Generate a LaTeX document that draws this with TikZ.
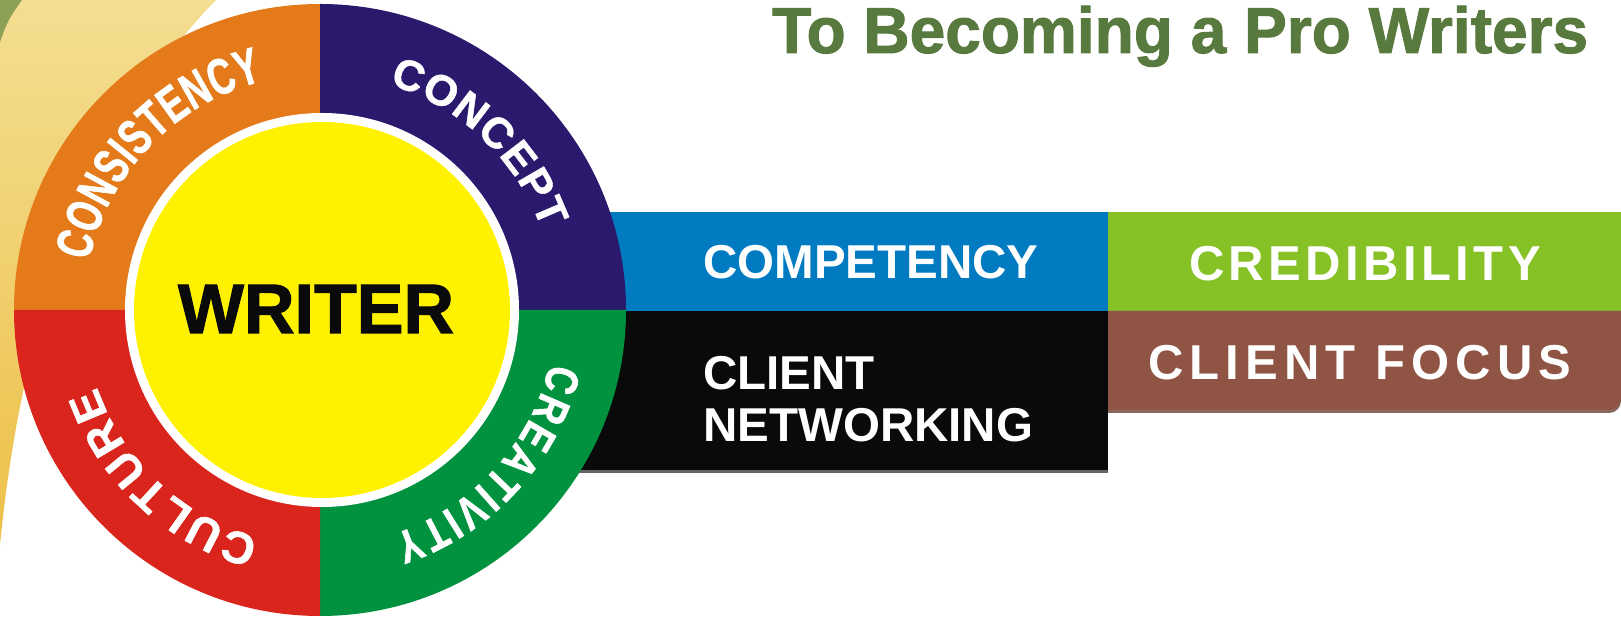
\documentclass[tikz,border=0pt]{standalone}
\usepackage{fontspec}
\setmainfont{Liberation Sans}
\newfontfamily\condfont{Liberation Sans}[FakeStretch=0.7, FakeBold=1.2]
\newfontfamily\narfont{Liberation Sans}[FakeStretch=0.8, FakeBold=1.2]
\newfontfamily\ringfont{Liberation Sans}[FakeBold=1.2]
\newfontfamily\titlefont{Liberation Sans}[FakeBold=1.5]
\usetikzlibrary{decorations.text}
\definecolor{corange}{RGB}{228,122,26}
\definecolor{cpurple}{RGB}{43,25,110}
\definecolor{cred}{RGB}{218,37,29}
\definecolor{cgreen}{RGB}{0,146,63}
\definecolor{cyellow}{RGB}{255,242,0}
\definecolor{cblue}{RGB}{0,123,194}
\definecolor{clime}{RGB}{134,193,38}
\definecolor{cblack}{RGB}{10,10,10}
\definecolor{cbrown}{RGB}{143,84,68}
\definecolor{ctitle}{RGB}{88,122,62}
\definecolor{cbeigeT}{RGB}{244,222,146}
\definecolor{cbeigeB}{RGB}{237,192,72}
\definecolor{colive}{RGB}{140,160,85}
\newcommand\ringlabel[4]{%
  \path[decorate, decoration={text along path, text={|#3|#4},
        text align={fit to path}, text color=white}]
    ([shift={(#1:236)}]c) arc[start angle=#1, end angle=#2, radius=236];}
\tikzset{
  barbox/.style={anchor=south west, inner sep=0, outer sep=0, minimum width=588, minimum height=99},
  bartext/.style={anchor=base west, inner sep=0, text=white},
  barfont/.style={font=\fontsize{47.5}{47.5}\selectfont\bfseries},
}
\begin{document}
\begin{tikzpicture}[x=1pt,y=1pt]
\useasboundingbox (0,0) rectangle (1621,620);
\fill[white] (0,0) rectangle (1621,620);
% background swoosh
\shade[top color=cbeigeT, bottom color=cbeigeB] (0,620) -- (216,620) .. controls (70,470) and (18,260) .. (0,75) -- cycle;
\fill[colive] (0,620) -- (22,620) .. controls (8,600) .. (0,578) -- cycle;
% title
\node[anchor=base west, inner sep=0, text=ctitle, font=\titlefont\fontsize{65}{65}\selectfont\bfseries] (title) at (772,567) {\scalebox{0.985}[1]{To Becoming a Pro Writers}};
% bars
\node[barbox, fill=cblue] (blue) at (520,309) {};
\node[barbox, fill=clime, minimum width=513] (lime) at (1108,309) {};
\fill[black!60] (530,147) rectangle (1108,150);
\node[barbox, fill=cblack, minimum height=159] (blackbar) at (520,150) {};
\fill[cbrown!55!gray] (1108,207) -- (1609,207) arc[start angle=-90, end angle=0, radius=12] -- (1621,309) -- (1108,309) -- cycle;
\fill[cbrown] (1108,309) -- (1621,309) -- (1621,222) arc[start angle=0, end angle=-90, radius=12] -- (1108,210) -- cycle;
\node[bartext, barfont] (competency) at (703,341) {COMPETENCY};
\node[bartext, font=\fontsize{49}{49}\selectfont\bfseries\addfontfeature{LetterSpace=9}] (credibility) at (1189,339) {CREDIBILITY};
\node[bartext, barfont] (client) at (703,230) {CLIENT};
\node[bartext, barfont] (networking) at (703,178) {NETWORKING};
\node[bartext, font=\fontsize{49}{49}\selectfont\bfseries\addfontfeature{LetterSpace=12.5}] (clientfocus) at (1148,240) {CLIENT FOCUS};
% wheel
\coordinate (c) at (320,310);
\coordinate (cy) at (322,310);
\fill[corange] (c) -- ++(180:306) arc[start angle=180, end angle=90, radius=306] -- cycle;
\fill[cpurple] (c) -- ++(90:306) arc[start angle=90, end angle=0, radius=306] -- cycle;
\fill[cgreen] (c) -- ++(0:306) arc[start angle=0, end angle=-90, radius=306] -- cycle;
\fill[cred] (c) -- ++(270:306) arc[start angle=270, end angle=180, radius=306] -- cycle;
\fill[white] (cy) circle[radius=197];
\fill[cyellow] (cy) circle[radius=188];
\node[anchor=base, inner sep=0, font=\titlefont\fontsize{70}{70}\selectfont\bfseries, text=cblack] (writer) at (316,287) {WRITER};
\ringlabel{168}{104}{\condfont\fontsize{51}{51}\selectfont\bfseries}{CONSISTENCY}
\ringlabel{73}{20}{\ringfont\fontsize{43}{43}\selectfont\bfseries}{CONCEPT}
\ringlabel{-13}{-72}{\narfont\fontsize{46}{46}\selectfont\bfseries}{CREATIVITY}
\ringlabel{-105}{-161}{\ringfont\fontsize{45}{45}\selectfont\bfseries}{CULTURE}
\end{tikzpicture}
\end{document}
